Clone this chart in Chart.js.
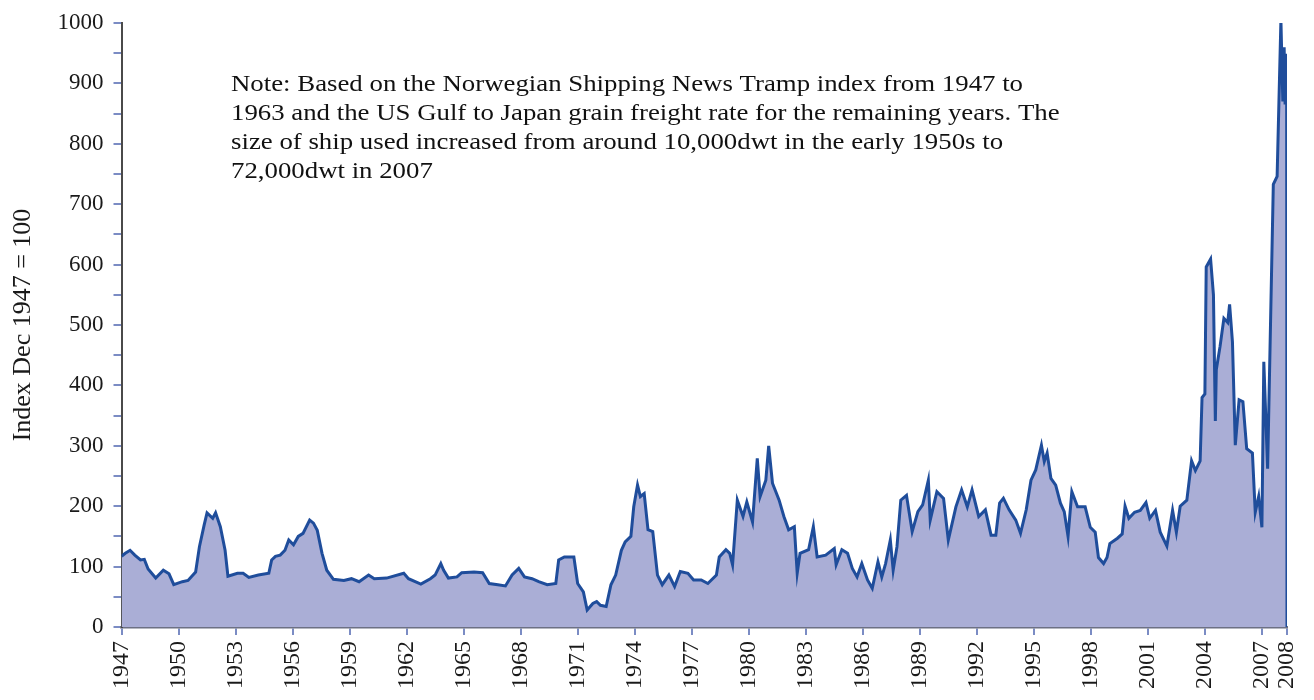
<!DOCTYPE html>
<html><head><meta charset="utf-8">
<script src="https://cdn.jsdelivr.net/npm/chart.js@4.4.1/dist/chart.umd.min.js"></script>
<style>html,body{margin:0;padding:0;background:#fff;}</style>
</head><body>
<canvas id="c" width="1314" height="700"></canvas>
<script>
const years = [1947.0,1947.2,1947.45,1947.7,1948.0,1948.2,1948.4,1948.8,1949.2,1949.5,1949.75,1950.2,1950.5,1950.9,1951.1,1951.35,1951.5,1951.8,1951.95,1952.2,1952.45,1952.6,1953.1,1953.4,1953.7,1954.2,1954.75,1954.9,1955.1,1955.35,1955.6,1955.8,1956.05,1956.3,1956.55,1956.9,1957.1,1957.3,1957.55,1957.8,1958.15,1958.7,1959.1,1959.5,1960.0,1960.3,1960.95,1961.85,1962.1,1962.75,1963.25,1963.5,1963.8,1963.95,1964.2,1964.65,1964.9,1965.55,1966.0,1966.35,1966.8,1967.2,1967.55,1967.9,1968.2,1968.6,1968.95,1969.4,1969.85,1970.0,1970.3,1970.8,1971.0,1971.3,1971.5,1971.8,1972.0,1972.2,1972.5,1972.75,1973.0,1973.3,1973.5,1973.8,1973.95,1974.15,1974.3,1974.5,1974.7,1974.95,1975.2,1975.45,1975.8,1976.1,1976.4,1976.8,1977.1,1977.5,1977.85,1978.3,1978.45,1978.8,1979.0,1979.15,1979.4,1979.7,1979.9,1980.2,1980.45,1980.6,1980.9,1981.05,1981.25,1981.6,1981.85,1982.1,1982.4,1982.55,1982.7,1983.15,1983.4,1983.6,1984.05,1984.5,1984.6,1984.9,1985.2,1985.45,1985.7,1985.95,1986.25,1986.5,1986.8,1987.0,1987.2,1987.45,1987.6,1987.8,1988.0,1988.3,1988.6,1988.9,1989.15,1989.45,1989.55,1989.9,1990.25,1990.5,1990.9,1991.2,1991.5,1991.75,1992.1,1992.45,1992.75,1993.0,1993.2,1993.4,1993.7,1994.05,1994.3,1994.6,1994.85,1995.1,1995.4,1995.55,1995.7,1995.9,1996.15,1996.4,1996.6,1996.8,1997.0,1997.3,1997.7,1997.97,1998.23,1998.4,1998.67,1998.85,1999.0,1999.4,1999.65,1999.8,2000.0,2000.3,2000.6,2000.9,2001.1,2001.4,2001.65,2002.0,2002.3,2002.5,2002.7,2003.05,2003.3,2003.5,2003.75,2003.85,2004.0,2004.07,2004.3,2004.45,2004.55,2004.6,2004.8,2005.0,2005.2,2005.3,2005.45,2005.6,2005.8,2006.0,2006.2,2006.5,2006.65,2006.83,2007.0,2007.1,2007.3,2007.6,2007.8,2008.0,2008.1,2008.17,2008.22,2008.3,2008.32];
const index = [117,122,127,119,111,112,96,81,94,88,70,75,77,91,133,169,189,180,189,166,127,84,89,89,82,86,89,111,117,119,127,144,136,150,155,177,172,160,122,94,79,77,80,75,86,80,81,89,80,71,80,86,105,94,81,83,90,91,90,72,70,68,86,97,83,80,75,70,72,111,116,116,72,58,28,39,42,36,34,70,86,127,141,150,199,235,216,221,161,158,86,70,86,67,92,89,78,78,72,86,116,128,122,103,210,183,207,174,279,216,243,300,238,210,183,161,166,89,122,128,166,116,119,130,103,128,122,97,83,105,78,64,108,83,105,144,94,133,210,218,158,191,202,243,177,224,213,144,199,227,199,227,183,194,152,152,205,213,194,177,155,194,243,260,301,274,288,246,235,205,191,150,224,199,199,165,157,115,105,115,138,147,154,200,180,190,193,206,180,193,157,134,193,157,200,210,275,259,275,380,386,596,609,550,341,426,465,511,504,534,472,301,376,373,295,288,190,216,165,439,262,733,746,1005,870,960,865,949,0];
const tickYears = [1947,1950,1953,1956,1959,1962,1965,1968,1971,1974,1977,1980,1983,1986,1989,1992,1995,1998,2001,2004,2007,2008];
const yTitle = 'Index Dec 1947 = 100';
const noteLines = [
  'Note: Based on the Norwegian Shipping News Tramp index from 1947 to',
  '1963 and the US Gulf to Japan grain freight rate for the remaining years. The',
  'size of ship used increased from around 10,000dwt in the early 1950s to',
  '72,000dwt in 2007'
];

const SERIF = '"Liberation Serif", "Times New Roman", serif';

const notePlugin = {
  id: 'note',
  afterDraw(chart) {
    const ctx = chart.ctx;
    ctx.save();
    ctx.font = '24px ' + SERIF;
    ctx.fillStyle = '#111';
    ctx.textBaseline = 'alphabetic';
    const w = ctx.measureText(noteLines[0]).width;
    const sx = 792 / w;
    noteLines.forEach((t, i) => {
      ctx.save();
      ctx.translate(231, 91 + i * 29);
      ctx.scale(sx, 1);
      ctx.fillText(t, 0, 0);
      ctx.restore();
    });
    ctx.restore();
  }
};

new Chart(document.getElementById('c'), {
  type: 'line',
  data: {
    datasets: [{
      data: years.map((x, i) => ({ x: x, y: index[i] })),
      borderColor: '#1f4d9b',
      backgroundColor: '#aaaed6',
      borderWidth: 3,
      fill: 'origin',
      pointRadius: 0,
      tension: 0
    }]
  },
  options: {
    responsive: false,
    animation: false,
    layout: { padding: { top: 23, right: 27, left: 0, bottom: 0 } },
    plugins: { legend: { display: false }, tooltip: { enabled: false } },
    scales: {
      x: {
        type: 'linear',
        min: years[0],
        max: years[years.length - 1],
        afterBuildTicks: (s) => {
          s.ticks = tickYears.map(v => ({ value: v }));
          s.ticks[s.ticks.length - 1].value = s.max;
        },
        afterFit: (s) => { s.height = 73; s.paddingLeft = 0; s.paddingRight = 0; },
        ticks: {
          autoSkip: false, maxRotation: 90, minRotation: 90,
          callback: (v, i) => String(tickYears[i]),
          font: { family: SERIF, size: 24 }, color: '#1a1a1a', padding: 6
        },
        grid: { drawOnChartArea: false, drawTicks: true, tickLength: 8, color: '#7b8cc4', lineWidth: 2 },
        border: { color: '#6c7084', width: 2.5 }
      },
      y: {
        min: 0, max: 1000,
        afterFit: (s) => { s.width = 121.5; s.paddingTop = 0; s.paddingBottom = 0; },
        ticks: {
          stepSize: 50, autoSkip: false,
          callback: (v) => (v % 100 === 0 ? String(v) : ''),
          font: { family: SERIF, size: 23 }, color: '#1a1a1a', padding: 10
        },
        grid: { drawOnChartArea: false, drawTicks: true, tickLength: 8, color: '#7b8cc4', lineWidth: 2 },
        border: { color: '#4a4a4a', width: 2 },
        title: { display: true, text: yTitle, font: { family: SERIF, size: 26 }, color: '#1a1a1a', padding: { top: 8, bottom: 0 } }
      }
    }
  },
  plugins: [notePlugin]
});
</script>
</body></html>
